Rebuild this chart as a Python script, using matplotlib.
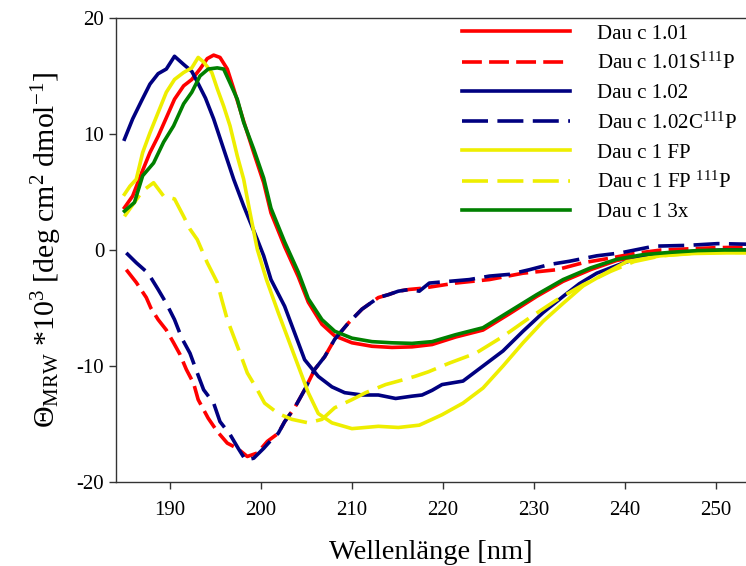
import numpy as np
import matplotlib
matplotlib.use("Agg")
import matplotlib.pyplot as plt

# font setup (serif look like the original)
plt.rcParams['font.family'] = ['Liberation Serif', 'DejaVu Serif']
plt.rcParams['mathtext.fontset'] = 'custom'
plt.rcParams['mathtext.rm'] = 'Liberation Serif'
plt.rcParams['mathtext.it'] = 'Liberation Serif:italic'
plt.rcParams['axes.unicode_minus'] = False

# Dau c 1.01
x_r101 = [185.0, 185.9, 186.9, 187.8, 188.7, 189.6, 190.5, 191.5, 192.4, 193.3, 194.1, 194.8, 195.5,
          196.3, 197.0, 198.1, 199.2, 200.3, 201.1, 202.6, 204.1, 205.2, 206.7, 208.1, 210.0, 212.2,
          214.4, 216.6, 218.8, 221.4, 224.4, 227.3, 230.3, 233.2, 236.2, 239.1, 242.0, 245.0, 248.0,
          251.0, 253.5]
y_r101 = [3.65, 4.65, 6.67, 8.4, 9.8, 11.4, 13.0, 14.15, 14.7, 15.6, 16.5, 16.8, 16.6,
          15.6, 13.9, 11.1, 8.4, 5.8, 3.2, 0.3, -2.3, -4.5, -6.4, -7.4, -8.0, -8.3,
          -8.4, -8.35, -8.15, -7.5, -6.9, -5.5, -4.0, -2.7, -1.7, -0.9, -0.5, -0.25, -0.1,
          0.0, 0.0]

# Dau c 1.01S111P
x_r101s = [185.2, 186.3, 187.4, 187.9, 188.7, 189.6, 190.4, 191.1, 191.8, 192.6, 193.1, 194.2, 195.2,
           196.3, 197.4, 198.5, 199.6, 200.7, 201.9, 202.6, 203.7, 204.8, 205.9, 207.0, 208.1, 209.6,
           211.1, 212.9, 214.0, 215.1, 216.3, 217.7, 221.4, 225.1, 228.8, 232.5, 235.4, 238.4, 241.0,
           244.0, 247.0, 250.0, 253.5]
y_r101s = [-1.7, -2.8, -4.1, -5.0, -6.0, -6.9, -8.0, -9.0, -10.3, -11.5, -12.9, -14.5, -15.65,
           -16.65, -17.1, -17.8, -17.5, -16.5, -15.8, -14.8, -13.6, -12.05, -10.3, -9.2, -7.7, -6.3,
           -5.1, -4.1, -3.85, -3.55, -3.4, -3.3, -2.85, -2.55, -2.0, -1.7, -1.1, -0.7, -0.3,
           0.0, 0.1, 0.2, 0.25]

# Dau c 1.02
x_b102 = [185.0, 185.9, 186.9, 187.8, 188.7, 189.6, 190.5, 191.5, 192.4, 193.0, 193.9, 194.8, 195.9,
          197.0, 198.1, 199.6, 200.3, 201.1, 202.6, 203.7, 204.8, 206.3, 207.8, 209.2, 211.1, 212.9,
          214.8, 216.6, 217.7, 218.8, 219.9, 222.2, 224.4, 226.6, 228.8, 231.0, 233.2, 235.0, 236.9,
          239.9, 242.0, 245.0, 248.0, 251.0, 253.5]
y_b102 = [9.55, 11.3, 12.9, 14.3, 15.2, 15.6, 16.7, 16.0, 15.4, 14.5, 13.1, 11.3, 8.7,
          6.1, 3.8, 0.9, -0.5, -2.55, -4.85, -7.15, -9.46, -10.9, -11.8, -12.3, -12.5, -12.5,
          -12.8, -12.6, -12.5, -12.1, -11.6, -11.3, -10.0, -8.7, -7.0, -5.4, -4.0, -2.9, -2.0,
          -1.1, -0.6, -0.3, -0.1, 0.0, 0.0]

# Dau c 1.02C111P
x_b102c = [185.2, 186.3, 187.6, 188.7, 189.6, 190.5, 191.3, 192.2, 193.0, 193.7, 194.8, 195.5, 196.6,
           197.5, 198.3, 199.2, 200.3, 201.1, 201.9, 202.6, 203.7, 204.8, 205.9, 207.0, 208.1, 209.6,
           211.1, 212.9, 214.0, 215.1, 216.3, 217.4, 218.5, 220.7, 222.9, 225.1, 227.3, 229.5, 231.7,
           233.9, 236.9, 239.5, 243.2, 246.9, 250.2, 253.5]
y_b102c = [-0.25, -1.1, -2.0, -3.4, -4.6, -6.0, -7.6, -8.9, -10.6, -12.05, -13.2, -14.8, -15.9,
           -17.1, -18.1, -17.95, -17.1, -16.4, -15.8, -14.8, -13.6, -12.05, -10.3, -9.2, -7.7, -6.3,
           -5.1, -4.1, -3.85, -3.55, -3.4, -3.55, -2.85, -2.7, -2.55, -2.25, -2.1, -1.7, -1.25,
           -0.97, -0.5, -0.25, 0.33, 0.4, 0.55, 0.5]

# Dau c 1 FP
x_fp = [185.0, 185.6, 186.3, 187.0, 187.8, 188.7, 189.6, 190.5, 191.5, 192.4, 193.1, 193.7, 194.6,
        195.2, 195.9, 196.6, 197.4, 198.1, 198.8, 199.6, 200.6, 201.9, 203.0, 204.1, 205.2, 206.3,
        207.8, 210.0, 212.9, 215.1, 217.4, 218.8, 219.9, 222.2, 224.4, 226.6, 228.8, 231.0, 233.2,
        235.4, 237.6, 240.2, 243.9, 247.6, 251.0, 253.5]
y_fp = [4.8, 5.5, 6.1, 8.4, 10.1, 11.85, 13.6, 14.7, 15.3, 15.7, 16.6, 16.2, 15.3,
        13.9, 12.4, 10.7, 8.1, 6.1, 3.2, 0.05, -2.55, -5.4, -7.7, -10.0, -12.3, -14.1,
        -14.9, -15.4, -15.2, -15.3, -15.1, -14.6, -14.2, -13.2, -11.9, -10.0, -8.0, -6.15, -4.6,
        -3.1, -2.1, -1.0, -0.5, -0.3, -0.25, -0.25]

# Dau c 1 FP 111P
x_fp111 = [185.0, 186.0, 187.0, 188.2, 189.3, 190.5, 191.5, 192.2, 193.0, 194.1, 195.2, 195.7, 196.3,
           197.0, 197.7, 198.5, 199.6, 200.4, 201.9, 203.4, 205.2, 206.7, 208.1, 210.0, 211.5, 213.7,
           215.1, 216.9, 218.4, 220.7, 223.6, 226.6, 229.5, 232.5, 235.4, 238.4, 241.0, 244.0, 247.0,
           250.0, 253.5]
y_fp111 = [2.9, 4.0, 5.1, 5.8, 4.65, 4.4, 2.9, 1.8, 0.9, -1.1, -2.8, -4.3, -6.0,
           -7.45, -8.9, -10.6, -12.05, -13.2, -14.1, -14.6, -14.9, -14.6, -13.6, -12.9, -12.3, -11.6,
           -11.3, -10.9, -10.5, -9.75, -8.9, -7.45, -5.85, -4.3, -3.0, -1.85, -1.0, -0.5, -0.3,
           -0.2, -0.2]

# Dau c 1 3x
x_3x = [185.0, 186.1, 187.0, 188.2, 189.3, 190.4, 191.5, 192.4, 193.3, 194.2, 195.2, 195.9, 196.6,
        197.4, 198.1, 199.2, 200.3, 201.1, 202.6, 204.1, 205.2, 206.7, 208.1, 210.0, 212.2, 214.4,
        216.6, 218.8, 221.4, 224.4, 227.3, 230.3, 233.2, 236.2, 239.1, 242.0, 245.0, 248.0, 251.0,
        253.5]
y_3x = [3.35, 4.1, 6.4, 7.5, 9.3, 10.7, 12.6, 13.6, 15.0, 15.6, 15.7, 15.6, 14.4,
        13.0, 11.0, 8.7, 6.2, 3.6, 0.7, -1.9, -4.2, -6.0, -7.0, -7.6, -7.9, -8.0,
        -8.05, -7.9, -7.3, -6.7, -5.3, -3.85, -2.55, -1.55, -0.8, -0.4, -0.2, -0.05, 0.0,
        0.0]

labels = ["Dau c 1.01", "Dau c 1.01S$^{111}$P", "Dau c 1.02", "Dau c 1.02C$^{111}$P",
          "Dau c 1 FP", "Dau c 1 FP $^{111}$P", "Dau c 1 3x"]

red = '#FF0000'
navy = '#000080'
yellow = '#EEEE00'
green = '#008000'
lw = 2.6

fig = plt.figure(figsize=(7.46, 5.66), dpi=100)
ax = fig.add_axes([116 / 746, 84 / 566, 630 / 746, 464 / 566])

ax.plot(x_r101, y_r101, color=red, lw=lw, label=labels[0])
ax.plot(x_r101s, y_r101s, color=red, lw=lw, dashes=(5.5, 2.0), label=labels[1])
ax.plot(x_b102, y_b102, color=navy, lw=lw, label=labels[2])
ax.plot(x_b102c, y_b102c, color=navy, lw=lw, dashes=(7.2, 2.6), label=labels[3])
ax.plot(x_fp, y_fp, color=yellow, lw=lw, label=labels[4])
ax.plot(x_fp111, y_fp111, color=yellow, lw=lw, dashes=(7.2, 2.6), label=labels[5])
ax.plot(x_3x, y_3x, color=green, lw=lw, label=labels[6])

ax.set_xlim(184.07, 253.3)
ax.set_ylim(-20, 20)
ax.set_xticks([190, 200, 210, 220, 230, 240, 250])
ax.set_yticks([-20, -10, 0, 10, 20])
ax.tick_params(direction='out', length=5, width=1, labelsize=15, color='#333333')
ax.tick_params(axis='x', pad=9)
for s in ['left', 'bottom', 'top']:
    ax.spines[s].set_color('#333333')
    ax.spines[s].set_linewidth(1.0)
ax.spines['right'].set_visible(False)

ax.set_xlabel("Wellenlänge [nm]", fontsize=20.5, labelpad=14)
ax.set_ylabel(r"$\Theta_{\mathrm{MRW}}$ *10$^3$ [deg cm$^2$ dmol$^{-1}$]", fontsize=21.5, labelpad=9)

leg = ax.legend(loc='upper left', bbox_to_anchor=(462 / 746, 1 - 24 / 566),
                bbox_transform=fig.transFigure, frameon=False, fontsize=15,
                handlelength=5.2, handletextpad=1.3, labelspacing=0.45, borderpad=0,
                borderaxespad=0)

fig.savefig("out.png", dpi=100)
